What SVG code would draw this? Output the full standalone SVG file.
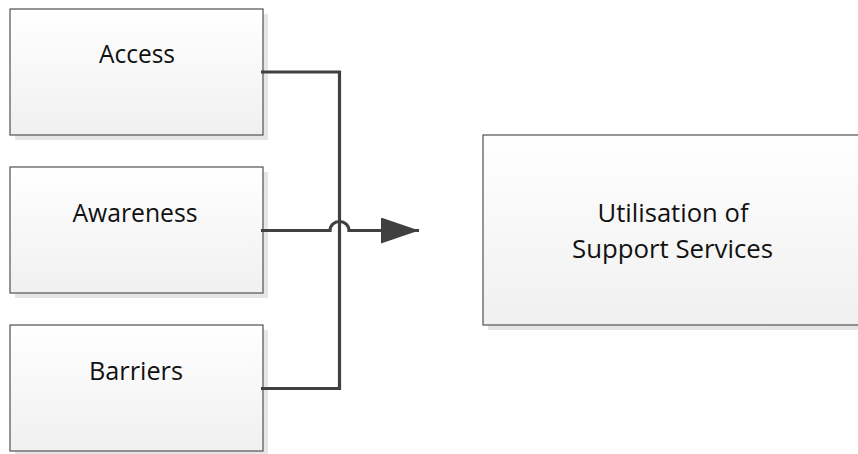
<svg xmlns="http://www.w3.org/2000/svg" width="858" height="454" viewBox="0 0 858 454">
  <defs>
    <linearGradient id="boxfill" x1="0" y1="0" x2="0" y2="1">
      <stop offset="0" stop-color="#ffffff"/>
      <stop offset="1" stop-color="#f0f0f0"/>
    </linearGradient>
    <marker id="arrow" markerUnits="userSpaceOnUse" markerWidth="40" markerHeight="30" refX="38" refY="13" orient="auto">
      <path d="M0,0 L38,13 L0,26 Z" fill="#404040"/>
    </marker>
  </defs>
  <style>
    .shadow { fill: #e6e6e6; }
    .box { fill: url(#boxfill); stroke: #5e5e5e; stroke-width: 1.3; }
    .label { font-family: "Open Sans", "Liberation Sans", Arial, sans-serif; font-size: 25px; fill: #111111; text-anchor: middle; }
    .conn { fill: none; stroke: #404040; stroke-width: 3.2; }
  </style>
  <rect width="858" height="454" fill="#ffffff"/>

  <g id="access">
    <rect class="shadow" x="15" y="14" width="253" height="126"/>
    <rect class="box" x="10" y="9" width="253" height="126"/>
    <text class="label" x="137" y="63" textLength="76" lengthAdjust="spacingAndGlyphs">Access</text>
  </g>

  <g id="awareness">
    <rect class="shadow" x="15" y="172" width="253" height="126"/>
    <rect class="box" x="10" y="167" width="253" height="126"/>
    <text class="label" x="135" y="221.5" textLength="125" lengthAdjust="spacingAndGlyphs">Awareness</text>
  </g>

  <g id="barriers">
    <rect class="shadow" x="15" y="330" width="253" height="126"/>
    <rect class="box" x="10" y="325" width="253" height="126"/>
    <text class="label" x="136" y="379.5" textLength="94" lengthAdjust="spacingAndGlyphs">Barriers</text>
  </g>

  <g id="utilisation">
    <rect class="shadow" x="488" y="140" width="380" height="190"/>
    <rect class="box" x="483" y="135" width="380" height="190"/>
    <text class="label" x="673" y="222" textLength="151" lengthAdjust="spacingAndGlyphs">Utilisation of</text>
    <text class="label" x="672.5" y="258" textLength="201" lengthAdjust="spacingAndGlyphs">Support Services</text>
  </g>

  <g id="connectors">
    <path class="conn" d="M261,72 H339.5 V388.5 H261"/>
    <path class="conn" d="M261,230.5 H330 A9.5,9 0 0 1 349,230.5 H419" marker-end="url(#arrow)"/>
  </g>
</svg>
